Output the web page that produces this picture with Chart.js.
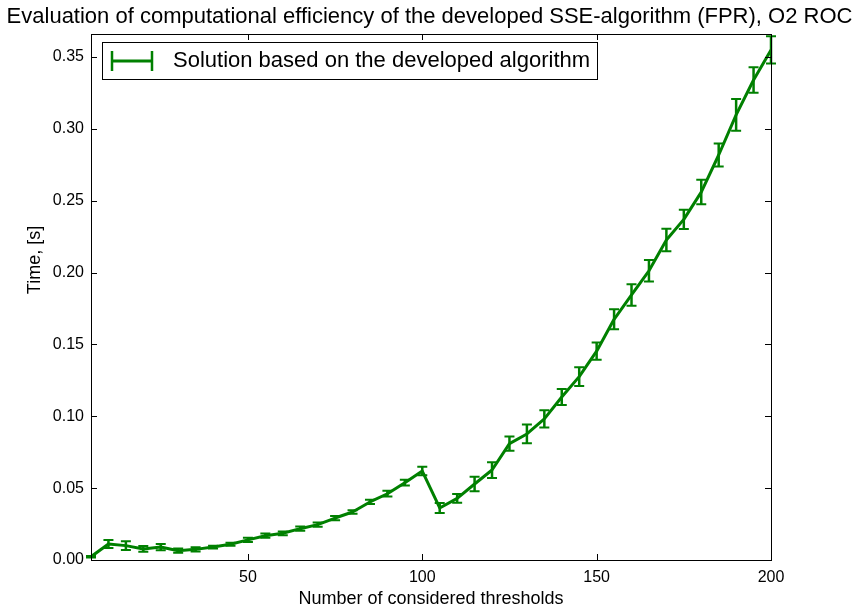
<!DOCTYPE html>
<html>
<head>
<meta charset="utf-8">
<script src="https://cdn.jsdelivr.net/npm/chart.js@4.4.0/dist/chart.umd.min.js"></script>
<style>
html,body{margin:0;padding:0;background:#fff;}
#wrap{width:859px;height:610px;}
</style>
</head>
<body>
<div id="wrap"><canvas id="c" width="859" height="610"></canvas></div>
<script>
// ---- data ----
const thresholds = [5,10,15,20,25,30,35,40,45,50,55,60,65,70,75,80,85,90,95,100,
                    105,110,115,120,125,130,135,140,145,150,155,160,165,170,175,180,185,190,195,200];
const timeMeans = [0.0023,0.0111,0.0100,0.0077,0.0090,0.0065,0.0074,0.0090,0.0110,0.0140,
                   0.0169,0.0186,0.0218,0.0246,0.0292,0.0334,0.0404,0.0461,0.0538,0.0619,
                   0.0362,0.0429,0.0529,0.0626,0.0810,0.0877,0.0982,0.1134,0.1276,0.1453,
                   0.1675,0.1844,0.2012,0.2227,0.2370,0.2560,0.2818,0.3097,0.3340,0.3549];
const timeErrors = [0.0005,0.0028,0.0030,0.0020,0.0022,0.0015,0.0015,0.0010,0.0010,0.0015,
                    0.0015,0.0013,0.0015,0.0015,0.0015,0.0013,0.0015,0.0020,0.0020,0.0030,
                    0.0035,0.0030,0.0050,0.0055,0.0050,0.0065,0.0060,0.0055,0.0065,0.0060,
                    0.0070,0.0075,0.0075,0.0078,0.0067,0.0085,0.0080,0.0110,0.0088,0.0095];
const xTickValues = [50,100,150,200];
const yTickValues = [0.00,0.05,0.10,0.15,0.20,0.25,0.30,0.35];

const chartTitle = 'Evaluation of computational efficiency of the developed SSE-algorithm (FPR), O2 ROC';
const seriesLabel = 'Solution based on the developed algorithm';
const xAxisTitle = 'Number of considered thresholds';
const yAxisTitle = 'Time, [s]';

// ---- styles ----
const FONT = '"Liberation Sans", Arial, Helvetica, sans-serif';
const GREEN = '#008000';

const decorPlugin = {
  id: 'decor',
  beforeDatasetsDraw(chart) {
    const ctx = chart.ctx;
    const xs = chart.scales.x, ys = chart.scales.y;
    ctx.save();
    ctx.strokeStyle = GREEN;
    for (let i = 0; i < thresholds.length; i++) {
      const px = xs.getPixelForValue(thresholds[i]);
      const yTop = ys.getPixelForValue(timeMeans[i] + timeErrors[i]);
      const yBot = ys.getPixelForValue(timeMeans[i] - timeErrors[i]);
      ctx.lineWidth = 2.5;
      ctx.beginPath();
      ctx.moveTo(px, yTop); ctx.lineTo(px, yBot);
      ctx.stroke();
      ctx.lineWidth = 2;
      ctx.beginPath();
      ctx.moveTo(px - 5, yTop); ctx.lineTo(px + 5, yTop);
      ctx.moveTo(px - 5, yBot); ctx.lineTo(px + 5, yBot);
      ctx.stroke();
    }
    ctx.restore();
  },
  afterDraw(chart) {
    const ctx = chart.ctx;
    const a = chart.chartArea;
    const xs = chart.scales.x, ys = chart.scales.y;
    ctx.save();
    // inward tick marks on all four sides
    ctx.strokeStyle = '#000';
    ctx.lineWidth = 1;
    ctx.beginPath();
    const tl = 6;
    xs.ticks.forEach(t => {
      const px = Math.round(xs.getPixelForValue(t.value)) + 0.5;
      ctx.moveTo(px, a.bottom); ctx.lineTo(px, a.bottom - tl);
      ctx.moveTo(px, a.top); ctx.lineTo(px, a.top + tl);
    });
    ys.ticks.forEach(t => {
      const py = Math.round(ys.getPixelForValue(t.value)) + 0.5;
      ctx.moveTo(a.left, py); ctx.lineTo(a.left + tl, py);
      ctx.moveTo(a.right, py); ctx.lineTo(a.right - tl, py);
    });
    ctx.stroke();
    // frame
    ctx.strokeRect(Math.round(a.left) + 0.5, Math.round(a.top) + 0.5,
                   Math.round(a.right - a.left), Math.round(a.bottom - a.top));
    // y axis title
    ctx.fillStyle = '#000';
    ctx.font = '18px ' + FONT;
    ctx.textAlign = 'center';
    ctx.textBaseline = 'middle';
    ctx.save();
    ctx.translate(35, 260);
    ctx.rotate(-Math.PI / 2);
    ctx.fillText(yAxisTitle, 0, 0);
    ctx.restore();
    // legend
    const bx = a.left + 11, by = a.top + 8, bw = 495, bh = 37;
    ctx.fillStyle = '#fff';
    ctx.fillRect(bx, by, bw, bh);
    ctx.strokeStyle = '#000';
    ctx.lineWidth = 1;
    ctx.strokeRect(bx + 0.5, by + 0.5, bw, bh);
    const cy = by + bh / 2 + 0.5;
    const hx0 = bx + 10, hx1 = bx + 50;
    ctx.strokeStyle = GREEN;
    ctx.lineWidth = 3;
    ctx.beginPath();
    ctx.moveTo(hx0, cy); ctx.lineTo(hx1, cy);
    ctx.stroke();
    ctx.lineWidth = 2.5;
    ctx.beginPath();
    ctx.moveTo(hx0, cy - 10); ctx.lineTo(hx0, cy + 10);
    ctx.moveTo(hx1, cy - 10); ctx.lineTo(hx1, cy + 10);
    ctx.stroke();
    ctx.fillStyle = '#000';
    ctx.font = '22px ' + FONT;
    ctx.textBaseline = 'middle';
    ctx.textAlign = 'left';
    ctx.fillText(chart.data.datasets[0].label, bx + 71, cy);
    ctx.restore();
  }
};

new Chart(document.getElementById('c').getContext('2d'), {
  type: 'line',
  data: {
    datasets: [{
      label: seriesLabel,
      data: thresholds.map((x, i) => ({x: x, y: timeMeans[i]})),
      borderColor: GREEN,
      borderWidth: 3,
      pointRadius: 0,
      fill: false,
      tension: 0,
      borderJoinStyle: 'round'
    }]
  },
  options: {
    responsive: false,
    animation: false,
    devicePixelRatio: 1,
    layout: {padding: {left: 0, right: 0, top: 0, bottom: 0}},
    plugins: {
      legend: {display: false},
      tooltip: {enabled: false},
      title: {
        display: true, text: chartTitle, color: '#000',
        font: {family: FONT, size: 22, weight: 'normal'},
        padding: {top: 4, bottom: 3.6}
      }
    },
    scales: {
      x: {
        type: 'linear', min: 5, max: 200,
        grid: {display: false, drawTicks: false}, border: {display: false},
        afterBuildTicks: s => { s.ticks = xTickValues.map(v => ({value: v})); },
        afterFit: s => { s.height = 50; },
        ticks: {color: '#000', font: {family: FONT, size: 16}, padding: 8, maxRotation: 0,
                callback: v => String(v)},
        title: {display: true, text: xAxisTitle, color: '#000',
                font: {family: FONT, size: 18}, padding: {top: 0, bottom: 0}}
      },
      y: {
        type: 'linear', min: 0, max: 0.366,
        grid: {display: false, drawTicks: false}, border: {display: false},
        afterBuildTicks: s => { s.ticks = yTickValues.map(v => ({value: v})); },
        afterFit: s => { s.width = 91; },
        ticks: {color: '#000', font: {family: FONT, size: 16}, padding: 7,
                callback: v => Number(v).toFixed(2)},
        title: {display: false}
      },
      yRight: {
        type: 'linear', position: 'right', min: 0, max: 1, display: true,
        grid: {display: false, drawTicks: false}, border: {display: false},
        ticks: {display: false},
        afterFit: s => { s.width = 88; }
      }
    }
  },
  plugins: [decorPlugin]
});
</script>
</body>
</html>
